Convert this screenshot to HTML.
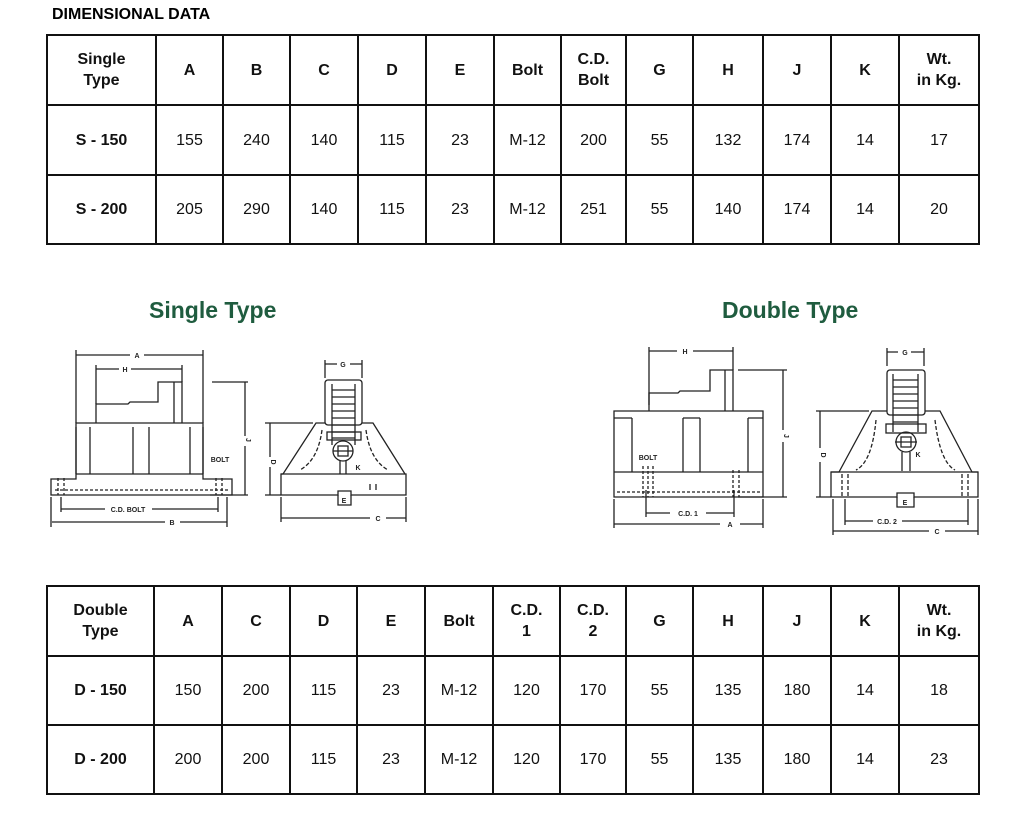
<!DOCTYPE html>
<html><head><meta charset="utf-8"><style>
body{margin:0;width:1024px;height:824px;background:#fff;position:relative;font-family:"Liberation Sans",Arial,sans-serif;overflow:hidden}
.t{position:absolute;border-collapse:collapse;table-layout:fixed}
.t td{border:2px solid #111;text-align:center;vertical-align:middle;font-size:16px;color:#111;padding:0;line-height:21px}
.t tr:first-child td,.t td:first-child{font-weight:bold}
h1{position:absolute;left:52px;top:6px;margin:0;font-size:16px;font-weight:bold}
.tt{position:absolute;font-size:23px;font-weight:bold;color:#1f5c3f;top:297px}
svg{position:absolute;left:0;top:0}
</style></head><body>
<h1>DIMENSIONAL DATA</h1>
<table class="t" style="left:46px;top:34px;width:932px;height:209px">
<colgroup><col style="width:109px"><col style="width:67px"><col style="width:67px"><col style="width:68px"><col style="width:68px"><col style="width:68px"><col style="width:67px"><col style="width:65px"><col style="width:67px"><col style="width:70px"><col style="width:68px"><col style="width:68px"><col style="width:80px"></colgroup>
<tr style="height:70px"><td>Single<br>Type</td><td>A</td><td>B</td><td>C</td><td>D</td><td>E</td><td>Bolt</td><td>C.D.<br>Bolt</td><td>G</td><td>H</td><td>J</td><td>K</td><td>Wt.<br>in Kg.</td></tr>
<tr style="height:70px"><td>S - 150</td><td>155</td><td>240</td><td>140</td><td>115</td><td>23</td><td>M-12</td><td>200</td><td>55</td><td>132</td><td>174</td><td>14</td><td>17</td></tr>
<tr style="height:69px"><td>S - 200</td><td>205</td><td>290</td><td>140</td><td>115</td><td>23</td><td>M-12</td><td>251</td><td>55</td><td>140</td><td>174</td><td>14</td><td>20</td></tr>
</table>
<table class="t" style="left:46px;top:585px;width:932px;height:208px">
<colgroup><col style="width:107px"><col style="width:68px"><col style="width:68px"><col style="width:67px"><col style="width:68px"><col style="width:68px"><col style="width:67px"><col style="width:66px"><col style="width:67px"><col style="width:70px"><col style="width:68px"><col style="width:68px"><col style="width:80px"></colgroup>
<tr style="height:70px"><td>Double<br>Type</td><td>A</td><td>C</td><td>D</td><td>E</td><td>Bolt</td><td>C.D.<br>1</td><td>C.D.<br>2</td><td>G</td><td>H</td><td>J</td><td>K</td><td>Wt.<br>in Kg.</td></tr>
<tr style="height:69px"><td>D - 150</td><td>150</td><td>200</td><td>115</td><td>23</td><td>M-12</td><td>120</td><td>170</td><td>55</td><td>135</td><td>180</td><td>14</td><td>18</td></tr>
<tr style="height:69px"><td>D - 200</td><td>200</td><td>200</td><td>115</td><td>23</td><td>M-12</td><td>120</td><td>170</td><td>55</td><td>135</td><td>180</td><td>14</td><td>23</td></tr>
</table>
<div class="tt" style="left:149px">Single Type</div>
<div class="tt" style="left:722px">Double Type</div>
<svg width="1024" height="824" viewBox="0 0 1024 824" fill="none" stroke="#222" stroke-width="1.3" font-family="Liberation Sans,Arial,sans-serif" font-size="7" font-weight="bold">
<g fill="#222" stroke="none" text-anchor="middle">
<text x="137" y="358">A</text><text x="125" y="372">H</text><text x="220" y="462">BOLT</text><text x="128" y="512">C.D. BOLT</text><text x="172" y="525">B</text><text x="246" y="440" transform="rotate(90 246 440)">J</text>
<text x="343" y="367">G</text><text x="271" y="462" transform="rotate(90 271 462)">D</text><text x="358" y="470">K</text><text x="344" y="503">E</text><text x="378" y="521">C</text>
<text x="685" y="354">H</text><text x="648" y="460">BOLT</text><text x="688" y="516">C.D. 1</text><text x="730" y="527">A</text><text x="784" y="436" transform="rotate(90 784 436)">J</text>
<text x="905" y="355">G</text><text x="821" y="455" transform="rotate(90 821 455)">D</text><text x="918" y="457">K</text><text x="905" y="505">E</text><text x="887" y="524">C.D. 2</text><text x="937" y="534">C</text>
</g>
<path d="M76 350V423M203 350V423M76 355H130M144 355H203M96 365V404M182 365V382M96 369H119M131 369H182"/>
<path d="M96 423V404H128L130 402H158V382H182V423M174 382V423"/>
<path d="M76 423H203V479H232V495H51V479H76Z M76 474H203"/>
<path d="M76 427V474M90 427V474M133 427V474M149 427V474M190 427V474M203 427V474"/>
<path d="M55 490H228M58 478V495M64 478V495M216 478V495M222 478V495" stroke-dasharray="3 2"/>
<path d="M212 382H248M210 495H248M245 382V436M245 446V495M51 497V527M61 497V512M218 497V512M227 497V527M61 509H105M152 509H218M52 522H165M180 522H227"/>
<path d="M325 360V378M362 360V378M325 364H337M350 364H362"/>
<rect x="325" y="380" width="37" height="45" rx="3"/>
<path d="M332 384V445M355 384V445M332 390H355M332 397H355M332 404H355M332 411H355M332 418H355M332 425H355M332 432H355M332 438H355" />
<rect x="327" y="432" width="34" height="8"/>
<circle cx="343" cy="451" r="10"/><rect x="338" y="446" width="10" height="10"/>
<path d="M340 461V474M346 461V474M333 451H353"/>
<path d="M325 423H316L283 474H281V495H338V491H351V495H406V474H405L373 423H362"/>
<path d="M281 474H405"/>
<path d="M322 430Q318 460 300 470M366 430Q370 460 388 470" stroke-dasharray="4 2"/>
<path d="M338 495V505H351V495M370 484V490M376 484V490M265 423H313M265 495H281M270 423V457M270 467V495M281 497V522M406 497V522M281 518H370M386 518H406"/>
<path d="M649 347V405M733 347V370M649 351H677M693 351H733"/>
<path d="M649 411V393H678L680 391H710V370H733V411M725 370V411"/>
<path d="M614 411H763V497H614Z M614 472H763"/>
<path d="M632 418V472M683 418V472M700 418V472M748 418V472M614 418H632M683 418H700M748 418H763"/>
<path d="M617 492H760M643 466V497M648 466V497M653 466V497M733 470V497M739 470V497" stroke-dasharray="3 2"/>
<path d="M738 370H787M738 497H787M783 370V430M783 442V497M614 499V528M763 499V528M646 490V517M734 490V517M646 513H670M706 513H734M614 524H720M740 524H763"/>
<path d="M887 348V366M924 348V366M887 352H898M911 352H924"/>
<rect x="887" y="370" width="38" height="45" rx="3"/>
<path d="M893 374V432M918 374V432M893 380H918M893 387H918M893 394H918M893 401H918M893 408H918M893 415H918M893 422H918"/>
<rect x="886" y="424" width="40" height="9"/>
<circle cx="906" cy="442" r="10"/><rect x="901" y="437" width="10" height="10"/>
<path d="M902 452V471M910 452V471M895 442H917"/>
<path d="M887 411H872L839 472H831V497H897V493H914V497H978V472H972L940 411H925"/>
<path d="M831 472H978"/>
<path d="M876 420Q872 462 856 470M935 420Q940 462 955 470M842 474V497M848 474V497M962 474V497M968 474V497" stroke-dasharray="4 2"/>
<path d="M897 497V507H914V497M816 411H869M816 497H831M820 411V448M820 462V497M845 499V525M968 499V525M833 499V535M978 499V535M845 521H873M902 521H968M833 531H929M945 531H978"/>
</svg>
</body></html>
